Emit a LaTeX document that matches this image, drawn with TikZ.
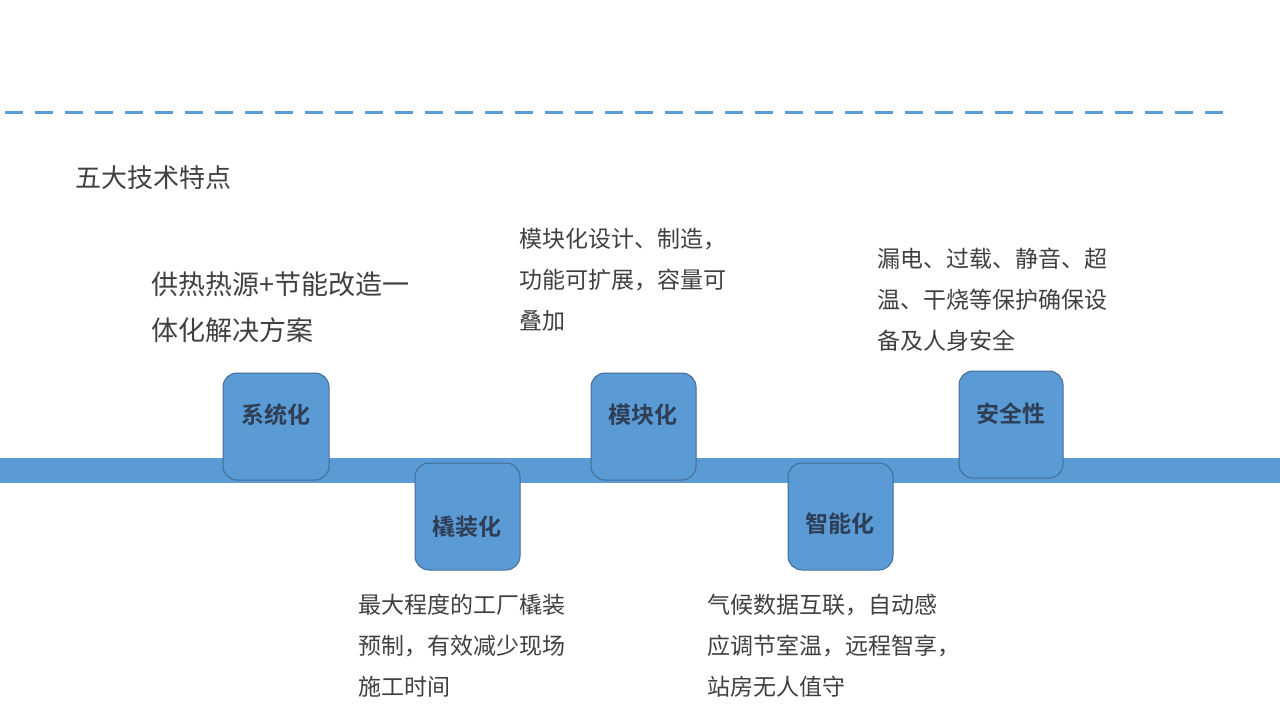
\documentclass[tikz,border=0pt]{standalone}
\usepackage{fontspec}
\newfontfamily\cjk{Noto Sans CJK SC}
\newfontfamily\cjkb{Noto Sans CJK SC Bold}
\definecolor{mblue}{HTML}{5B9BD5}
\definecolor{dtext}{HTML}{404040}
\definecolor{lbl}{HTML}{2E3E55}
\begin{document}
\begin{tikzpicture}[x=1pt,y=-1pt,
  box/.style={fill=mblue,rounded corners=14pt,draw=mblue!70!black,line width=1pt},
  lab/.style={font=\cjkb\fontsize{23}{26}\selectfont,text=lbl},
  desc/.style={font=\cjk\fontsize{23}{41}\selectfont,text=dtext,align=left,anchor=north west,inner sep=0pt}]
\useasboundingbox (0,0) rectangle (1280,720);
\draw[mblue,line width=3pt,dash pattern=on 18pt off 12pt] (5,112) -- (1230,112);
\node[anchor=west,inner sep=0pt,font=\cjk\fontsize{26}{30}\selectfont,text=dtext] (t) at (75,178) {五大技术特点};
\fill[mblue] (0,458) rectangle (1280,483);
\draw[box] (223,373) rectangle (329,480);
\draw[box] (591,373) rectangle (696,480);
\draw[box] (959,371) rectangle (1063,478);
\draw[box] (415,463) rectangle (520,570);
\draw[box] (788,463) rectangle (893,570);
\node[lab] (a) at (276,415) {系统化};
\node[lab] (b) at (643,415) {模块化};
\node[lab] (c) at (1011,414) {安全性};
\node[lab] (d) at (467,527) {橇装化};
\node[lab] (e) at (840,524) {智能化};
\node[desc,font=\cjk\fontsize{27}{46}\selectfont] (da) at (151,272) {供热热源+节能改造一\\体化解决方案};
\node[desc] (db) at (519,228) {模块化设计、制造，\\功能可扩展，容量可\\叠加};
\node[desc] (dc) at (877,248) {漏电、过载、静音、超\\温、干烧等保护确保设\\备及人身安全};
\node[desc] (dd) at (358,594) {最大程度的工厂橇装\\预制，有效减少现场\\施工时间};
\node[desc] (de) at (707,594) {气候数据互联，自动感\\应调节室温，远程智享，\\站房无人值守};
\end{tikzpicture}
\end{document}
